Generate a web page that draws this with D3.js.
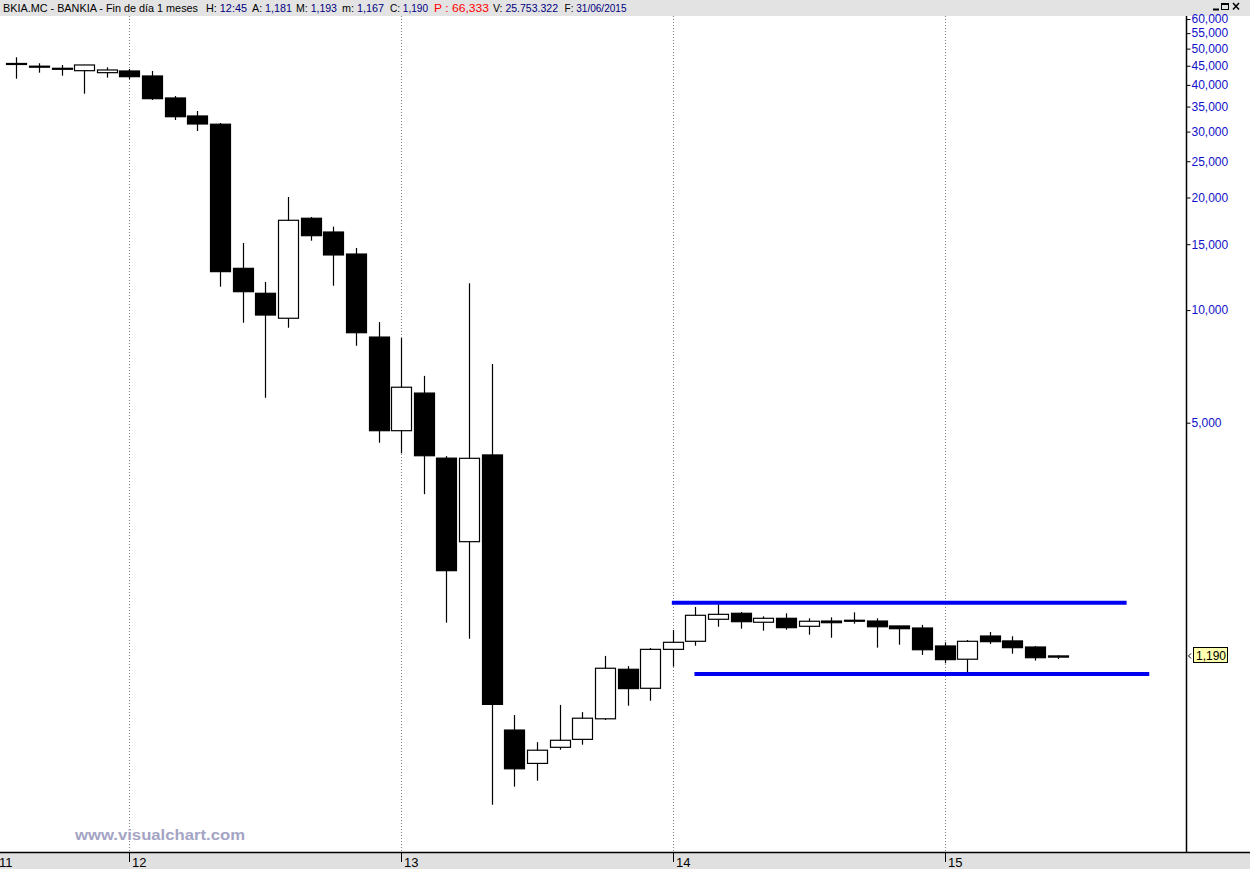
<!DOCTYPE html>
<html><head><meta charset="utf-8">
<script src="https://cdn.jsdelivr.net/npm/d3@7"></script>
<style>body{margin:0;background:#fff;overflow:hidden} svg{display:block}</style>
</head><body>
<svg id="c" width="1250" height="869"></svg>
<script>
// ---------- DATA ----------
const months = ["2011-08","2011-09","2011-10","2011-11","2011-12",
  "2012-01","2012-02","2012-03","2012-04","2012-05","2012-06","2012-07","2012-08","2012-09","2012-10","2012-11","2012-12",
  "2013-01","2013-02","2013-03","2013-04","2013-05","2013-06","2013-07","2013-08","2013-09","2013-10","2013-11","2013-12",
  "2014-01","2014-02","2014-03","2014-04","2014-05","2014-06","2014-07","2014-08","2014-09","2014-10","2014-11","2014-12",
  "2015-01","2015-02","2015-03","2015-04","2015-05","2015-06"];
const openV  = [45.63,44.88,44.30,43.65,43.12, 43.57,42.25,36.90,33.03,31.40,12.93,11.09,9.51,17.60,16.17,14.12,8.47,
  4.76,6.00,4.02,2.404,4.10,0.754,0.614,0.678,0.712,0.808,1.096,0.975,
  1.239,1.302,1.491,1.547,1.464,1.500,1.428,1.475,1.482,1.475,1.431,1.413,
  1.265,1.166,1.345,1.305,1.257,1.181];
const highV  = [47.40,45.69,45.21,45.25,44.57, 44.11,43.57,37.35,34.06,31.64,15.11,11.89,20.06,17.74,16.71,14.66,9.29,
  8.42,6.67,4.07,11.79,7.18,0.827,0.700,0.880,0.842,1.190,1.118,1.249,
  1.396,1.608,1.635,1.559,1.518,1.547,1.500,1.509,1.556,1.500,1.431,1.440,
  1.294,1.312,1.379,1.343,1.265,1.193];
const lowV   = [41.56,43.12,42.33,37.89,41.81, 41.40,36.45,32.22,30.12,11.55,9.25,5.83,8.97,15.33,11.62,8.03,4.42,
  4.14,3.22,1.460,1.323,0.476,0.532,0.552,0.668,0.689,0.802,0.876,0.903,
  1.114,1.267,1.424,1.407,1.390,1.398,1.356,1.331,1.451,1.252,1.275,1.197,
  1.137,1.065,1.281,1.206,1.156,1.167];
const closeV = [45.35,44.60,44.25,45.21,43.84, 42.07,36.74,32.88,31.44,12.67,11.20,9.70,17.38,15.81,14.04,8.70,4.76,
  6.22,4.08,2.011,4.016,0.883,0.594,0.666,0.708,0.811,1.103,0.973,1.239,
  1.294,1.528,1.537,1.469,1.500,1.416,1.473,1.460,1.480,1.424,1.407,1.236,
  1.163,1.302,1.299,1.252,1.177,1.190];
const priceTicks = [60,55,50,45,40,35,30,25,20,15,10,5];
const yearTicks  = [2011,2012,2013,2014,2015];
const yearLabels = ["11","12","13","14","15"];
const lineFrom   = ["2014-01","2014-02"];
const lineTo     = ["2015-09","2015-10"];
const lineValue  = [1.651,1.065];
const lastPrice  = 1.190;
const headerParts = [
  {label:"BKIA.MC - BANKIA - Fin de día 1 meses", value:"", kind:"title"},
  {label:"H:", value:"12:45"},
  {label:"A:", value:"1,181"},
  {label:"M:", value:"1,193"},
  {label:"m:", value:"1,167"},
  {label:"C:", value:"1,190"},
  {label:"P :", value:"66,333", kind:"red"},
  {label:"V:", value:"25.753.322"},
  {label:"F:", value:"31/06/2015"}
];
const watermark = "www.visualchart.com";

// ---------- HELPERS ----------
const mIndex = s => { const [y,m] = s.split("-").map(Number); return y*12 + (m-1); };
const candles = months.map((m,i)=>({m, idx:mIndex(m), o:openV[i], h:highV[i], l:lowV[i], c:closeV[i]}));

const svg = d3.select("#c");
const W = 1250, H = 869;
const plotTop = 16, plotBottom = 852, axisX = 1186.5;

const x = d3.scaleLinear().domain([mIndex(months[0]), mIndex(months[months.length-1])]).range([16.3, 1057.7]);
const y = d3.scaleLog().domain([5, 60]).range([422.7, 19.0]);

const loc = d3.formatLocale({decimal:",", thousands:".", grouping:[3], currency:["","€"]});
const fmt = loc.format(".3f");

// background
svg.append("rect").attr("x",0).attr("y",0).attr("width",W).attr("height",H).attr("fill","#fff");

// header band
svg.append("rect").attr("x",0).attr("y",0).attr("width",W).attr("height",16).attr("fill","#e3e3e3");

// year gridlines (dotted)
const yearIdx = yearTicks.map(yr => yr*12);
svg.append("g").selectAll("line").data(yearIdx.filter(v => x(v) >= 0))
  .join("line")
  .attr("x1", d => Math.round(x(d))+0.5).attr("x2", d => Math.round(x(d))+0.5)
  .attr("y1", plotTop).attr("y2", plotBottom)
  .attr("stroke","#808080").attr("stroke-width",1).attr("stroke-dasharray","1 2");

// candles
const g = svg.append("g");
candles.forEach(d => {
  const cx = Math.round(x(d.idx));
  g.append("line").attr("x1",cx+0.5).attr("x2",cx+0.5)
    .attr("y1", y(d.h)).attr("y2", y(d.l)).attr("stroke","#000").attr("stroke-width",1.2);
  const up = d.c >= d.o;
  const top = y(Math.max(d.o,d.c)), bot = y(Math.min(d.o,d.c));
  const hgt = Math.max(1, bot-top);
  g.append("rect").attr("x", cx-10+0.5).attr("y", top).attr("width",20).attr("height",hgt)
    .attr("fill", up ? "#fff" : "#000").attr("stroke","#000").attr("stroke-width",1.2);
});

// blue support/resistance lines
svg.append("g").selectAll("line").data(lineValue)
  .join("line")
  .attr("x1",(d,i)=>x(mIndex(lineFrom[i]))-1).attr("x2",(d,i)=>x(mIndex(lineTo[i]))+1)
  .attr("y1",d=>y(d)).attr("y2",d=>y(d))
  .attr("stroke","#0000f0").attr("stroke-width",4);

// right axis
svg.append("rect").attr("x",axisX+0.5).attr("y",plotTop).attr("width",W-axisX).attr("height",plotBottom-plotTop).attr("fill","#fff");
const ay = svg.append("g").attr("transform",`translate(${axisX},0)`)
  .call(d3.axisRight(y).tickValues(priceTicks).tickFormat(fmt).tickSize(4).tickPadding(1));
ay.select(".domain").remove();
ay.selectAll(".tick line").attr("stroke","#000");
ay.selectAll(".tick text").attr("fill","#1010c8").attr("font-family","'Liberation Sans', Arial, sans-serif").attr("font-size",12);
svg.append("line").attr("x1",axisX).attr("x2",axisX).attr("y1",plotTop).attr("y2",plotBottom)
  .attr("stroke","#000").attr("stroke-width",1.5);

// last price label
const ly = y(lastPrice);
svg.append("path").attr("d",`M1191,${ly-2.5} L1188.5,${ly} L1191,${ly+2.5}`).attr("fill","none").attr("stroke","#000").attr("stroke-width",1);
svg.append("rect").attr("x",1193.5).attr("y",Math.round(ly)-8.5).attr("width",34).attr("height",15)
  .attr("fill","#ffffb0").attr("stroke","#000").attr("stroke-width",1);
svg.append("text").attr("x",1196).attr("y",Math.round(ly)+4).text(fmt(lastPrice))
  .attr("font-family","'Liberation Sans', Arial, sans-serif").attr("font-size",12).attr("fill","#000");

// bottom axis band
svg.append("rect").attr("x",0).attr("y",plotBottom).attr("width",W).attr("height",H-plotBottom).attr("fill","#e0e0e0");
svg.append("line").attr("x1",0).attr("x2",W).attr("y1",plotBottom+0.5).attr("y2",plotBottom+0.5).attr("stroke","#000").attr("stroke-width",1.5);
const xg = svg.append("g");
yearIdx.forEach((v,i) => {
  const px = Math.round(x(v))+0.5;
  if (px >= 0) {
    xg.append("line").attr("x1",px).attr("x2",px).attr("y1",plotBottom).attr("y2",plotBottom+10).attr("stroke","#000").attr("stroke-width",1);
  }
  xg.append("text").attr("x", px >= 0 ? px+2.5 : -1).attr("y", 867)
    .text(yearLabels[i])
    .attr("font-family","'Liberation Sans Narrow', 'Liberation Sans', Arial, sans-serif")
    .attr("font-stretch","condensed")
    .attr("font-size",13).attr("fill","#000");
});

// header text
const hx = [3, 206, 252, 296, 342, 390, 434, 493, 564.5];
const hw = [195, 41, 40, 41, 42, 38, 55, 65, 62];
const ht = svg.append("g").attr("font-family","'Liberation Sans', Arial, sans-serif").attr("font-size",11);
headerParts.forEach((p,i) => {
  const t = ht.append("text").attr("x",hx[i]).attr("y",12)
    .attr("textLength",hw[i]).attr("lengthAdjust","spacingAndGlyphs");
  if (p.kind === "red") {
    t.append("tspan").attr("fill","#ff0000").text(p.label + " " + p.value);
  } else {
    t.append("tspan").attr("fill","#000").text(p.label);
    if (p.value) t.append("tspan").attr("fill","#000080").text(" " + p.value);
  }
});

// window buttons
const wb = svg.append("g").attr("stroke","#000").attr("fill","none");
wb.append("line").attr("x1",1213).attr("x2",1219).attr("y1",9.5).attr("y2",9.5).attr("stroke-width",2);
wb.append("rect").attr("x",1221.5).attr("y",3.5).attr("width",7).attr("height",6).attr("stroke-width",1);
wb.append("line").attr("x1",1221.5).attr("x2",1228.5).attr("y1",4).attr("y2",4).attr("stroke-width",2);
wb.append("line").attr("x1",1233).attr("x2",1239).attr("y1",3).attr("y2",9.5).attr("stroke-width",1.5);
wb.append("line").attr("x1",1239).attr("x2",1233).attr("y1",3).attr("y2",9.5).attr("stroke-width",1.5);

// watermark
svg.append("text").attr("x",75).attr("y",840).text(watermark)
  .attr("font-family","'Liberation Sans', Arial, sans-serif").attr("font-weight","bold")
  .attr("font-size",14.5).attr("fill","#a4a4c4")
  .attr("textLength",170).attr("lengthAdjust","spacingAndGlyphs");
</script>
</body></html>
